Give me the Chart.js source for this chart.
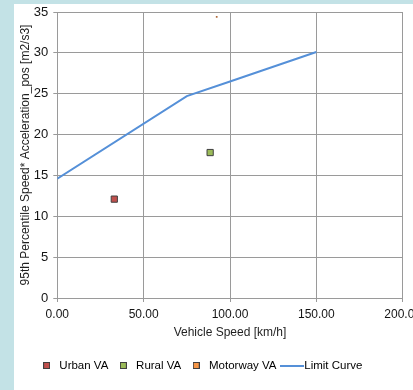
<!DOCTYPE html>
<html>
<head>
<meta charset="utf-8">
<script src="https://cdn.jsdelivr.net/npm/chart.js@4"></script>
<style>
  body { margin: 0; background: #c3e2e6; overflow: hidden; }
  #caja { position: absolute; left: 14px; top: 4px; width: 399px; height: 386px; background: #ffffff; }
</style>
</head>
<body>
<div id="caja"><canvas id="grafica"></canvas></div>
<script>
// datos
const seriesNames = ["Urban VA", "Rural VA", "Motorway VA", "Limit Curve"];
const urbanSpeed = [33.0];
const urbanValue = [12.1];
const ruralSpeed = [88.5];
const ruralValue = [17.8];
const motorwaySpeed = [92.3];
const motorwayValue = [34.4];
const limitSpeed = [0, 75, 100, 125, 150];
const limitValue = [14.6, 24.7, 26.5, 28.3, 30.1];
const xTicks = [0, 50, 100, 150, 200];
const yTicks = [0, 5, 10, 15, 20, 25, 30, 35];

const colores = ["#c0504d", "#9bbb59", "#f79646", "#5590d8"];
const fuente = "'Liberation Sans', Arial, sans-serif";

function puntos(xs, ys) {
    return xs.map((x, i) => ({ x: x, y: ys[i] }));
}

// iconos de la leyenda
function cuadrado(color) {
    let c = document.createElement("canvas");
    c.width = 7;
    c.height = 7;
    let ctx = c.getContext("2d");
    ctx.fillStyle = color;
    ctx.fillRect(0, 0, 7, 7);
    ctx.strokeStyle = "#404040";
    ctx.lineWidth = 1;
    ctx.strokeRect(0.5, 0.5, 6, 6);
    return c;
}
function linea(color) {
    let c = document.createElement("canvas");
    c.width = 24;
    c.height = 2;
    let ctx = c.getContext("2d");
    ctx.fillStyle = color;
    ctx.fillRect(0, 0, 24, 2);
    return c;
}
const iconos = [cuadrado(colores[0]), cuadrado(colores[1]), cuadrado(colores[2]), linea(colores[3])];

// mover la leyenda un poco a la izquierda como en el original
const moverLeyenda = {
    id: "moverLeyenda",
    afterLayout(chart) {
        let l = chart.legend;
        let d = 187 - (l.left + l.right) / 2;
        l.left += d;
        l.right += d;
    }
};

const data = {
    datasets: [
        { label: seriesNames[0], data: puntos(urbanSpeed, urbanValue), backgroundColor: colores[0], borderColor: "#404040", borderWidth: 1, pointStyle: "rect", pointRadius: 4.4 },
        { label: seriesNames[1], data: puntos(ruralSpeed, ruralValue), backgroundColor: colores[1], borderColor: "#404040", borderWidth: 1, pointStyle: "rect", pointRadius: 4.4 },
        { label: seriesNames[2], data: puntos(motorwaySpeed, motorwayValue), backgroundColor: "#b06a3a", borderColor: "#b06a3a", borderWidth: 0, pointStyle: "rect", pointRadius: 1.2 },
        { label: seriesNames[3], data: puntos(limitSpeed, limitValue), borderColor: colores[3], backgroundColor: colores[3], borderWidth: 2, showLine: true, pointRadius: 0, tension: 0 }
    ]
};

const grid = { color: "#9a9a9a", lineWidth: 1, tickLength: 4, tickColor: "#9a9a9a" };

const config = {
    type: "scatter",
    data: data,
    plugins: [moverLeyenda],
    options: {
        responsive: true,
        maintainAspectRatio: false,
        animation: false,
        layout: { padding: { left: 0, right: 10.3, top: 8, bottom: 8.75 } },
        plugins: {
            tooltip: { enabled: false },
            legend: {
                position: "bottom",
                labels: {
                    usePointStyle: true,
                    pointStyleWidth: 14,
                    boxHeight: 7,
                    padding: 8,
                    color: "#1f1f1f",
                    font: { family: fuente, size: 11.5 },
                    generateLabels: function (chart) {
                        return chart.data.datasets.map((ds, i) => ({
                            text: ds.label,
                            pointStyle: iconos[i],
                            fillStyle: colores[i],
                            strokeStyle: colores[i],
                            lineWidth: 0,
                            hidden: false,
                            datasetIndex: i
                        }));
                    }
                }
            }
        },
        scales: {
            x: {
                type: "linear",
                min: xTicks[0],
                max: xTicks[xTicks.length - 1],
                grid: grid,
                border: { color: "#9a9a9a" },
                afterBuildTicks: (s) => { s.ticks = xTicks.map(v => ({ value: v })); },
                ticks: {
                    maxRotation: 0,
                    autoSkip: false,
                    padding: 5,
                    color: "#141414",
                    font: { family: fuente, size: 12 },
                    callback: (v) => Number(v).toFixed(2)
                },
                title: {
                    display: true,
                    text: "Vehicle Speed [km/h]",
                    color: "#1f1f1f",
                    font: { family: fuente, size: 12 },
                    padding: { top: 0, bottom: 12 }
                },
                afterFit: (s) => { s.height = 53.75; s.paddingLeft = 0; s.paddingRight = 0; }
            },
            y: {
                min: yTicks[0],
                max: yTicks[yTicks.length - 1],
                grid: grid,
                border: { color: "#9a9a9a" },
                afterBuildTicks: (s) => { s.ticks = yTicks.map(v => ({ value: v })); },
                ticks: {
                    padding: 5,
                    color: "#141414",
                    font: { family: fuente, size: 13 }
                },
                title: {
                    display: true,
                    text: "95th Percentile Speed* Acceleration_pos [m2/s3]",
                    color: "#1f1f1f",
                    font: { family: fuente, size: 12 },
                    padding: { top: 4, bottom: 0 }
                },
                afterFit: (s) => { s.width = 43.3; s.paddingTop = 0; s.paddingBottom = 0; }
            }
        }
    }
};

let myChart = new Chart(document.getElementById("grafica"), config);
</script>
</body>
</html>
